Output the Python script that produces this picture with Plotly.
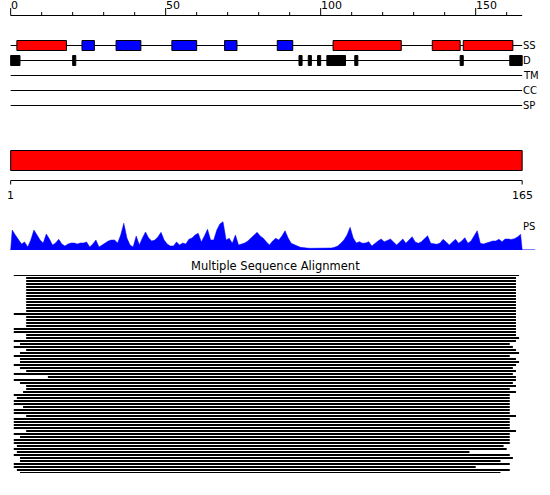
import plotly.graph_objects as go

W, H = 550, 495
SEQ_LEN = 165
PX_PER_RES = 3.1
X0_PX = 10.67
FONT = "DejaVu Sans"

# ---------------- data ----------------
ruler_ticks = list(range(0, SEQ_LEN, 10))
ruler_labels = [0, 50, 100, 150]
track_names = ["SS", "D", "TM", "CC", "SP"]

# residue ranges (1-based, inclusive)
helix_segments = [(3, 18), (105, 126), (137, 145), (147, 162)]
strand_segments = [(24, 27), (35, 42), (53, 60), (70, 73), (87, 91)]
disorder_segments = [(1, 3), (21, 21), (94, 94), (97, 97), (100, 100),
                     (103, 108), (112, 112), (146, 146), (162, 165)]
tm_segments = []
cc_segments = []
sp_segments = []
domain_segments = [(1, 165)]
domain_ruler_labels = [1, 165]

ps_values = [
    20, 15, 10, 6, 8, 3, 10, 20, 15, 10,
    7, 16, 11, 5, 7, 10.7, 6, 4, 6, 7,
    7, 6, 7, 7, 8, 3, 6, 10, 3, 5,
    7, 9, 10, 10, 7, 15, 26.7, 12, 5, 3,
    14, 5, 12, 18, 12, 9, 10, 13, 17.7, 10,
    6, 4, 4, 8, 5, 7, 6, 10.7, 12, 15,
    16.7, 8, 14, 20.7, 10, 10, 20, 26, 28.3, 10,
    11.7, 6.7, 15, 5, 6, 7, 9, 11.7, 15, 17.7,
    14, 11.7, 8, 5, 9, 11.7, 10, 14, 19.3, 12,
    6.7, 5, 4, 2.7, 2, 2, 1.7, 1.7, 1.7, 1.5,
    1.5, 1.7, 1.7, 2, 2.7, 4, 6.7, 10, 15, 22.7,
    12, 7, 8.3, 6.7, 7, 8.3, 4, 6.7, 9, 11,
    8.3, 9.5, 11, 8, 5, 8, 11, 6.7, 10, 13.3,
    8, 6.7, 8.3, 11, 14.3, 6.7, 6, 5.7, 7, 10.7,
    8, 5, 8, 10.7, 6.7, 9, 12.3, 6.7, 9, 14,
    19.3, 6.7, 6, 7, 8.3, 9, 9, 10.7, 8.3, 11,
    11, 10.5, 11.3, 13, 15.7,
]

# multiple sequence alignment: aligned start / end column of each sequence
msa_start = [2] + [6] * 12 + [2] + [6] * 4 + [2, 2, 6, 6, 2, 4, 2, 6, 4, 2,
             4, 4, 2, 4, 6, 2, 13, 2, 4, 6,
             6, 5, 2, 3, 2, 2, 5, 2, 2, 6,
             2, 2, 2, 2, 6, 2, 4, 2, 2, 3,
             2, 3, 2, 4, 4, 2, 2, 3, 4]
msa_end = [164] + [163] * 12 + [163] + [163] * 4 + [163, 163, 163, 164, 163, 161, 162, 163, 164, 161,
           163, 164, 163, 162, 163, 162, 163, 163, 162, 163,
           161, 163, 161, 161, 161, 161, 161, 161, 161, 163,
           161, 161, 161, 161, 163, 161, 161, 161, 161, 159,
           160, 148, 161, 162, 158, 161, 150, 161, 158]

# ---------------- layout positions (pixel rows) ----------------
RULER_Y = 15.5
TRACK_Y = {"SS": 45.5, "D": 60.5, "TM": 75.5, "CC": 90.5, "SP": 105.5}
BOX_HALF = 5
DOMAIN_BAR = (150.5, 170.5)
DOMAIN_RULER_Y = 180.5
PS_BASE_PX, PS_TOP_PX, PS_MAX = 250, 220, 30
MSA_TOP_PX, MSA_BOT_PX = 275, 473
PS_BASELINE_END = 169.2

fig = go.Figure()
shapes = []
annotations = []


def line(x0, y0, x1, y1, color="black", width=1):
    shapes.append(dict(type="line", xref="x", yref="y", x0=x0, y0=y0, x1=x1, y1=y1,
                       line=dict(color=color, width=width)))


def rect(x0, y0, x1, y1, fill):
    shapes.append(dict(type="rect", xref="x", yref="y", x0=x0, y0=y0, x1=x1, y1=y1,
                       fillcolor=fill, line=dict(color="black", width=1)))


def label(text, x, y, xref="x", xanchor="left", size=11, xshift=0):
    annotations.append(dict(text=text, x=x, y=y, xref=xref, yref="y", xanchor=xanchor,
                            yanchor="middle", showarrow=False, xshift=xshift,
                            font=dict(family=FONT, size=size, color="black")))


# top ruler
line(0, RULER_Y, SEQ_LEN, RULER_Y)
for t in ruler_ticks:
    top = RULER_Y - 7.5 if t in ruler_labels else RULER_Y - 3.5
    line(t, top, t, RULER_Y)
for t in ruler_labels:
    label(str(t), t, 5, xshift=-2)

# feature tracks
for name in track_names:
    y = TRACK_Y[name]
    line(0, y, SEQ_LEN, y)
    label(name, SEQ_LEN, y, size=10, xshift=-1.5)

for s, e in helix_segments:
    rect(s - 1, TRACK_Y["SS"] - BOX_HALF, e, TRACK_Y["SS"] + BOX_HALF, "#ff0000")
for s, e in strand_segments:
    rect(s - 1, TRACK_Y["SS"] - BOX_HALF, e, TRACK_Y["SS"] + BOX_HALF, "#0000ff")
for s, e in disorder_segments:
    rect(s - 1, TRACK_Y["D"] - BOX_HALF, e, TRACK_Y["D"] + BOX_HALF, "#000000")

# domain bar + ruler
for s, e in domain_segments:
    rect(s - 1, DOMAIN_BAR[0], e, DOMAIN_BAR[1], "#ff0000")
line(0, DOMAIN_RULER_Y, SEQ_LEN, DOMAIN_RULER_Y)
line(0, DOMAIN_RULER_Y, 0, DOMAIN_RULER_Y + 4)
line(SEQ_LEN, DOMAIN_RULER_Y, SEQ_LEN, DOMAIN_RULER_Y + 4)
label(str(domain_ruler_labels[0]), domain_ruler_labels[0] - 1, 195, xanchor="center")
label(str(domain_ruler_labels[1]), domain_ruler_labels[1], 195, xanchor="center")

# PS profile
ps_x = [0] + [i - 0.5 for i in range(1, SEQ_LEN + 1)] + [SEQ_LEN]
ps_y = [0] + ps_values + [0]
fig.add_trace(go.Scatter(x=ps_x, y=ps_y, yaxis="y2", mode="lines", fill="toself",
                         fillcolor="#0000ff", line=dict(color="#0000ff", width=0.5),
                         hoverinfo="skip"))
fig.add_trace(go.Scatter(x=[0, PS_BASELINE_END], y=[0, 0], yaxis="y2", mode="lines",
                         line=dict(color="#0000ff", width=1), hoverinfo="skip"))
label("PS", SEQ_LEN, 226, size=10, xshift=-1.5)

# MSA
label("Multiple Sequence Alignment", 0.5, 265.5, xref="paper", xanchor="center", size=11.5)
mx, my = [], []
for k, (s, e) in enumerate(zip(msa_start, msa_end)):
    mx += [s - 1, e, None]
    my += [k, k, None]
fig.add_trace(go.Scatter(x=mx, y=my, yaxis="y3", mode="lines",
                         line=dict(color="black", width=2), hoverinfo="skip"))

n_rows = len(msa_start)
fig.update_layout(
    width=W, height=H, margin=dict(l=0, r=0, t=0, b=0, autoexpand=False),
    paper_bgcolor="white", plot_bgcolor="white", showlegend=False,
    xaxis=dict(range=[-X0_PX / PX_PER_RES, (W - X0_PX) / PX_PER_RES], visible=False,
               domain=[0, 1], fixedrange=True),
    yaxis=dict(range=[H, 0], visible=False, domain=[0, 1], fixedrange=True),
    yaxis2=dict(range=[0, PS_MAX], visible=False, anchor="x", fixedrange=True,
                domain=[1 - PS_BASE_PX / H, 1 - PS_TOP_PX / H]),
    yaxis3=dict(range=[n_rows - 1, 0], visible=False, anchor="x", fixedrange=True,
                domain=[1 - MSA_BOT_PX / H, 1 - MSA_TOP_PX / H]),
    shapes=shapes, annotations=annotations,
)
fig.write_html("out.html", config={"displayModeBar": False},
               post_script="document.body.style.margin='0';document.body.style.overflow='hidden';")
